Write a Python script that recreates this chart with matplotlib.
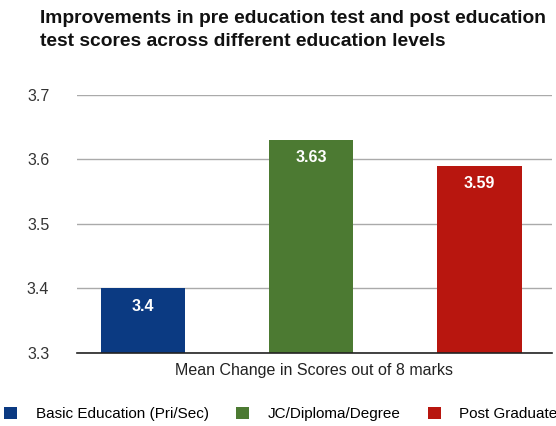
import matplotlib
matplotlib.use("Agg")
import matplotlib.pyplot as plt
from matplotlib.patches import Patch

categories = ["Basic Education (Pri/Sec)", "JC/Diploma/Degree", "Post Graduate"]
values = [3.4, 3.63, 3.59]
labels = ["3.4", "3.63", "3.59"]
colors = ["#0b3a82", "#4c7a32", "#b8160f"]
yticks = [3.3, 3.4, 3.5, 3.6, 3.7]
title = "Improvements in pre education test and post education\ntest scores across different education levels"
xlabel = "Mean Change in Scores out of 8 marks"

plt.rcParams['font.family'] = ['Liberation Sans', 'DejaVu Sans']

fig = plt.figure(figsize=(5.56, 4.26), dpi=100)
ax = fig.add_axes([0.1385, 0.1714, 0.854, 0.606])

x = list(range(len(values)))
bars = ax.bar(x, [v - 3.3 for v in values], bottom=3.3, width=0.5, color=colors, zorder=3)
for xi, v, lab in zip(x, values, labels):
    ax.text(xi, v - 0.016, lab, ha='center', va='top', color='white',
            fontsize=11.5, fontweight='bold', zorder=4)

ax.set_ylim(3.3, 3.7)
ax.set_xlim(-0.39, 2.43)
ax.set_yticks(yticks)
ax.set_yticklabels([f"{t:.1f}" for t in yticks], fontsize=11.5, color='#333333')
ax.tick_params(axis='y', length=0, pad=20)
ax.set_xticks([])
ax.yaxis.grid(True, color='#aaaaaa', linewidth=1, zorder=0)
for s in ['top', 'right', 'left']:
    ax.spines[s].set_visible(False)
ax.spines['bottom'].set_color('#222222')
ax.spines['bottom'].set_linewidth(1.2)
ax.spines['bottom'].set_zorder(5)
ax.set_xlabel(xlabel, fontsize=11.5, color='#222222', labelpad=7)

fig.text(40/556, 1 - 10/426, title, ha='left', va='top', fontsize=13.9,
         fontweight='bold', color='#111111', linespacing=1.45)

handles = [Patch(facecolor=c, edgecolor='none') for c in colors]
fig.legend(handles, categories, loc='center', bbox_to_anchor=(0.505, 1 - 414/426),
           ncol=3, frameon=False, fontsize=11, handlelength=0.85, handleheight=0.85,
           columnspacing=1.8, handletextpad=1.2)

fig.savefig("out.png", dpi=100)
